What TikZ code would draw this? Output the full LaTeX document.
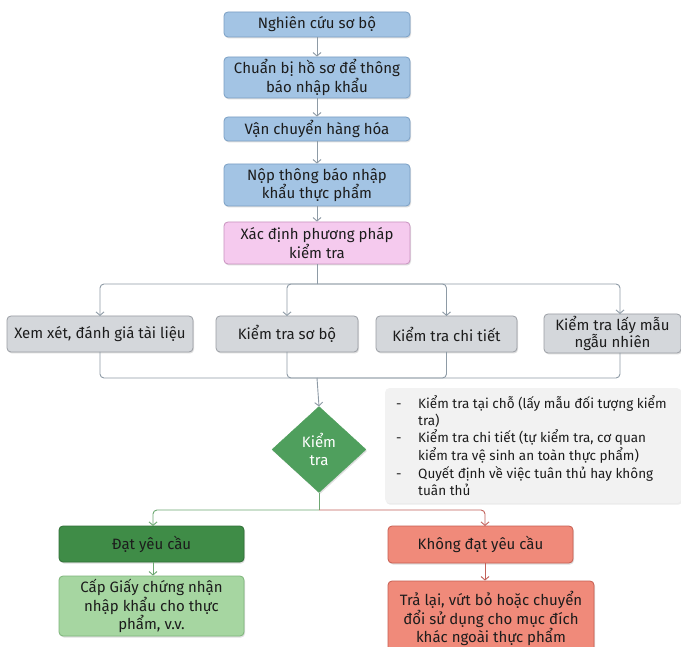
\documentclass[tikz,border=0pt]{standalone}
\usepackage{fontspec}
\setmainfont{Fira Sans}
\usetikzlibrary{shapes.geometric,arrows.meta,shadows}
\definecolor{bluef}{HTML}{A3C4E4}
\definecolor{blued}{HTML}{7A9FC4}
\definecolor{pinkf}{HTML}{F5CAEE}
\definecolor{pinkd}{HTML}{C992BF}
\definecolor{grayf}{HTML}{D4D7DB}
\definecolor{grayd}{HTML}{9A9EA4}
\definecolor{dgreenf}{HTML}{3F8C47}
\definecolor{dgreend}{HTML}{2F6E36}
\definecolor{lgreenf}{HTML}{A6D6A1}
\definecolor{lgreend}{HTML}{7DB57A}
\definecolor{redf}{HTML}{F08A7A}
\definecolor{redd}{HTML}{C65D50}
\definecolor{diamf}{HTML}{4F9F5D}
\definecolor{notef}{HTML}{F2F2F2}
\definecolor{lgray}{HTML}{8E9BA6}
\definecolor{lgreen}{HTML}{6DA872}
\definecolor{lred}{HTML}{C2625B}
\definecolor{txt}{HTML}{1C1C1C}
\begin{document}
\begin{tikzpicture}[x=1pt,y=-1pt,
  font=\fontsize{15}{17}\selectfont, text=txt,
  boxbase/.style={rectangle, rounded corners=4pt, align=center, inner sep=2pt, line width=0.8pt,
    drop shadow={shadow xshift=1pt, shadow yshift=-1.5pt, opacity=0.25}},
  bluebox/.style={boxbase, fill=bluef, draw=blued, minimum width=186pt},
  pinkbox/.style={boxbase, fill=pinkf, draw=pinkd, minimum width=186pt},
  graybox/.style={boxbase, fill=grayf, draw=grayd},
  dgbox/.style={boxbase, fill=dgreenf, draw=dgreend, minimum width=185pt},
  lgbox/.style={boxbase, fill=lgreenf, draw=lgreend, minimum width=185pt},
  rbox/.style={boxbase, fill=redf, draw=redd},
  conn/.style={draw=lgray, line width=0.9pt, rounded corners=4pt},
  gconn/.style={draw=lgreen, line width=0.9pt, rounded corners=4pt},
  rconn/.style={draw=lred, line width=0.9pt, rounded corners=4pt},
  arr/.style={-{Straight Barb[length=3.5pt,width=8pt]}}
]
\useasboundingbox (0,0) rectangle (681,647);
\fill[white] (0,0) rectangle (681,647);

% top chain
\node[bluebox, minimum height=25pt] (b1) at (317,24.5) {Nghiên cứu sơ bộ};
\node[bluebox, minimum height=41pt] (b2) at (317,77.5) {Chuẩn bị hồ sơ để thông\\báo nhập khẩu};
\node[bluebox, minimum height=24pt] (b3) at (317,129) {Vận chuyển hàng hóa};
\node[bluebox, minimum height=42pt] (b4) at (317,185) {Nộp thông báo nhập\\khẩu thực phẩm};
\node[pinkbox, minimum height=42pt] (b5) at (317,243) {Xác định phương pháp\\kiểm tra};

\draw[conn,arr] (b1) -- (b2);
\draw[conn,arr] (b2) -- (b3);
\draw[conn,arr] (b3) -- (b4);
\draw[conn,arr] (b4) -- (b5);

% row of methods
\node[graybox, minimum width=186pt, minimum height=36pt] (m1) at (100,334) {Xem xét, đánh giá tài liệu};
\node[graybox, minimum width=142pt, minimum height=36pt] (m2) at (287,334) {Kiểm tra sơ bộ};
\node[graybox, minimum width=141pt, minimum height=36pt] (m3) at (446.5,334) {Kiểm tra chi tiết};
\node[graybox, minimum width=137pt, minimum height=39pt] (m4) at (612.5,333.5) {Kiểm tra lấy mẫu\\ngẫu nhiên};

\coordinate (top) at (317,284);
\coordinate (bot) at (317,378);
\draw[conn] (b5.south) -- (top);
\draw[conn,arr] (top) -| (100,316);
\draw[conn,arr] (top) -| (287,316);
\draw[conn,arr] (top) -| (446.5,316);
\draw[conn,arr] (top) -| (620,314);

\draw[conn] (100,352) |- (bot);
\draw[conn] (287,352) |- (bot);
\draw[conn] (446.5,352) |- (bot);
\draw[conn] (620,353) |- (bot);

% diamond
\node[diamond, fill=diamf, draw=diamf, minimum width=94pt, minimum height=86pt, inner sep=0pt,
  align=center, text=white, font=\fontsize{15}{18}\selectfont,
  drop shadow={shadow xshift=1pt, shadow yshift=-1.5pt, opacity=0.25}] (d) at (319,449.5) {Kiểm\\tra};
\draw[conn,arr] (bot) -- (319,406.5);

% note
\node[rectangle, rounded corners=4pt, fill=notef, anchor=north west, minimum width=296pt, minimum height=115pt,
  drop shadow={shadow xshift=1pt, shadow yshift=-1.5pt, opacity=0.15}, inner sep=0pt] (note) at (385,388) {};
\node[anchor=north west, align=left, inner sep=0pt, font=\fontsize{13.5}{17}\selectfont] (notetext) at (396,395)
{\begin{tabular}{@{}p{22pt}@{}l@{}}
- & Kiểm tra tại chỗ (lấy mẫu đối tượng kiểm\\
   & tra)\\
- & Kiểm tra chi tiết (tự kiểm tra, cơ quan\\
   & kiểm tra vệ sinh an toàn thực phẩm)\\
- & Quyết định về việc tuân thủ hay không\\
   & tuân thủ
\end{tabular}};

% results
\node[dgbox, minimum height=36pt] (ok) at (151.5,544) {Đạt yêu cầu};
\node[lgbox, minimum height=60pt] (okr) at (151.5,606) {Cấp Giấy chứng nhận\\nhập khẩu cho thực\\phẩm, v.v.};
\node[rbox, minimum width=185pt, minimum height=37pt] (ng) at (480.5,544.5) {Không đạt yêu cầu};
\node[rbox, minimum width=206pt, minimum height=72pt, text depth=0pt, font=\fontsize{15}{16.5}\selectfont] (ngr) at (491,617) {Trả lại, vứt bỏ hoặc chuyển\\đổi sử dụng cho mục đích\\khác ngoài thực phẩm};

\coordinate (split) at (319,510);
\draw[gconn] (d.south) -- (split);
\draw[gconn,arr] (split) -| (153,526);
\draw[rconn,arr] (split) -| (485,526);
\draw[gconn,arr] (153,562) -- (okr.north -| 153,0);
\draw[rconn,arr] (ng.south -| 485,0) -- (ngr.north -| 485,0);
\end{tikzpicture}
\end{document}
